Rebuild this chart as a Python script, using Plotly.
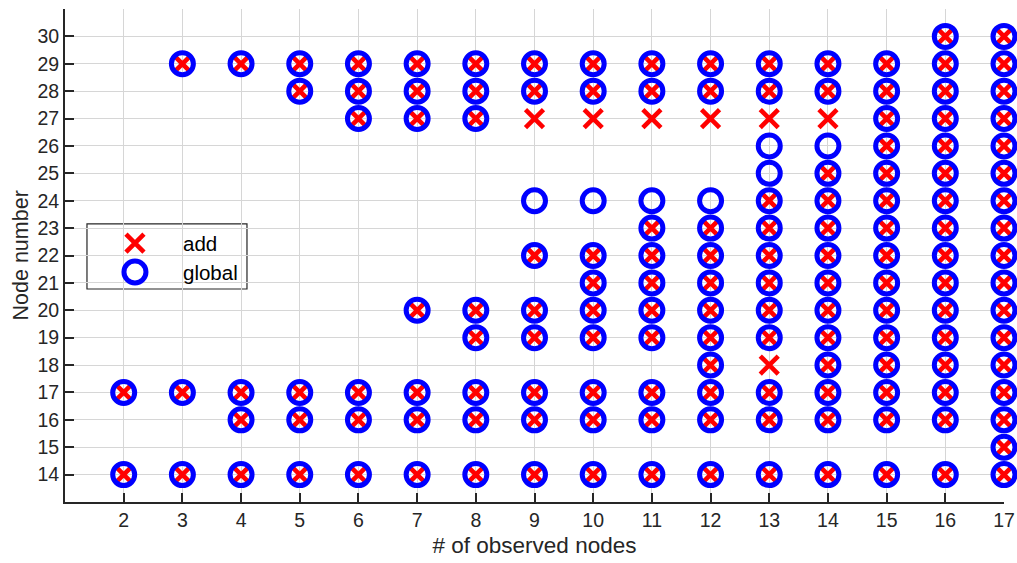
import plotly.graph_objects as go

# Number of observed nodes (x axis)
observed = [2, 3, 4, 5, 6, 7, 8, 9, 10, 11, 12, 13, 14, 15, 16, 17]

# Node numbers selected by the "add" strategy, one list per observed count
add_nodes = [
    [14, 17],
    [14, 17, 29],
    [14, 16, 17, 29],
    [14, 16, 17, 28, 29],
    [14, 16, 17, 27, 28, 29],
    [14, 16, 17, 20, 27, 28, 29],
    [14, 16, 17, 19, 20, 27, 28, 29],
    [14, 16, 17, 19, 20, 22, 27, 28, 29],
    [14, 16, 17, 19, 20, 21, 22, 27, 28, 29],
    [14, 16, 17, 19, 20, 21, 22, 23, 27, 28, 29],
    [14, 16, 17, 18, 19, 20, 21, 22, 23, 27, 28, 29],
    [14, 16, 17, 18, 19, 20, 21, 22, 23, 24, 27, 28, 29],
    [14, 16, 17, 18, 19, 20, 21, 22, 23, 24, 25, 27, 28, 29],
    [14, 16, 17, 18, 19, 20, 21, 22, 23, 24, 25, 26, 27, 28, 29],
    [14, 16, 17, 18, 19, 20, 21, 22, 23, 24, 25, 26, 27, 28, 29, 30],
    [14, 15, 16, 17, 18, 19, 20, 21, 22, 23, 24, 25, 26, 27, 28, 29, 30],
]

# Node numbers selected by the "global" strategy, one list per observed count
global_nodes = [
    [14, 17],
    [14, 17, 29],
    [14, 16, 17, 29],
    [14, 16, 17, 28, 29],
    [14, 16, 17, 27, 28, 29],
    [14, 16, 17, 20, 27, 28, 29],
    [14, 16, 17, 19, 20, 27, 28, 29],
    [14, 16, 17, 19, 20, 22, 24, 28, 29],
    [14, 16, 17, 19, 20, 21, 22, 24, 28, 29],
    [14, 16, 17, 19, 20, 21, 22, 23, 24, 28, 29],
    [14, 16, 17, 18, 19, 20, 21, 22, 23, 24, 28, 29],
    [14, 16, 17, 19, 20, 21, 22, 23, 24, 25, 26, 28, 29],
    [14, 16, 17, 18, 19, 20, 21, 22, 23, 24, 25, 26, 28, 29],
    [14, 16, 17, 18, 19, 20, 21, 22, 23, 24, 25, 26, 27, 28, 29],
    [14, 16, 17, 18, 19, 20, 21, 22, 23, 24, 25, 26, 27, 28, 29, 30],
    [14, 15, 16, 17, 18, 19, 20, 21, 22, 23, 24, 25, 26, 27, 28, 29, 30],
]

x_ticks = observed
y_ticks = [14, 15, 16, 17, 18, 19, 20, 21, 22, 23, 24, 25, 26, 27, 28, 29, 30]
series_names = ["add", "global"]


def flatten(columns):
    xs, ys = [], []
    for n, nodes in zip(observed, columns):
        xs.extend([n] * len(nodes))
        ys.extend(nodes)
    return xs, ys


FONT = "Liberation Sans, Arial, sans-serif"
TXT = "#262626"
RED = "#ff0000"
BLUE = "#0000ff"

add_style = dict(symbol="x-thin-open", size=18, color=RED, line=dict(color=RED, width=4.6))
glob_style = dict(symbol="circle-open", size=22, color=BLUE, line=dict(color=BLUE, width=5))

fig = go.Figure()

ax, ay = flatten(add_nodes)
gx, gy = flatten(global_nodes)
fig.add_trace(go.Scatter(x=ax, y=ay, mode="markers", marker=add_style, cliponaxis=False,
                         name=series_names[0], showlegend=False, hoverinfo="x+y"))
fig.add_trace(go.Scatter(x=gx, y=gy, mode="markers", marker=glob_style, cliponaxis=False,
                         name=series_names[1], showlegend=False, hoverinfo="x+y"))

# Legend drawn on a unit overlay axis so the symbols keep their full size
leg_x0, leg_x1, leg_y0, leg_y1 = 0.0234, 0.1938, 0.432, 0.564
sym_x, txt_x = 0.0745, 0.1235
row_y = [0.525, 0.4665]
fig.add_trace(go.Scatter(x=[sym_x], y=[row_y[0]], mode="markers", marker=add_style,
                         xaxis="x2", yaxis="y2", showlegend=False, hoverinfo="skip"))
fig.add_trace(go.Scatter(x=[sym_x], y=[row_y[1]], mode="markers", marker=glob_style,
                         xaxis="x2", yaxis="y2", showlegend=False, hoverinfo="skip"))
fig.add_shape(type="rect", xref="paper", yref="paper", x0=leg_x0, x1=leg_x1,
              y0=leg_y0, y1=leg_y1, fillcolor="white",
              line=dict(color=TXT, width=1.2), layer="between")
for name, yy in zip(series_names, row_y):
    fig.add_annotation(x=txt_x, y=yy, xref="paper", yref="paper", text=name,
                       showarrow=False, xanchor="left", yanchor="middle",
                       font=dict(family=FONT, size=20.5, color="black"))

# y-axis title
fig.add_annotation(x=-0.0469, y=0.5, xref="paper", yref="paper", text="Node number",
                   showarrow=False, textangle=-90, xanchor="center", yanchor="middle",
                   font=dict(family=FONT, size=21.5, color=TXT))

axis_common = dict(
    showgrid=True, gridcolor="#d6d6d6", gridwidth=1.4,
    showline=True, linecolor=TXT, linewidth=2,
    ticks="inside", ticklen=9, tickwidth=2, tickcolor=TXT,
    tickfont=dict(family=FONT, size=19.5, color=TXT),
    zeroline=False, mirror=False, automargin=False,
)

fig.update_layout(
    width=1017, height=563,
    margin=dict(l=65, r=13, t=9, b=61, autoexpand=False),
    paper_bgcolor="white", plot_bgcolor="white",
    showlegend=False,
    xaxis=dict(range=[1, 17], tickvals=x_ticks,
               title=dict(text="# of observed nodes", standoff=7,
                          font=dict(family=FONT, size=22.5, color=TXT)),
               **axis_common),
    yaxis=dict(range=[13, 31], tickvals=y_ticks, **axis_common),
    xaxis2=dict(overlaying="x", range=[0, 1], visible=False, fixedrange=True),
    yaxis2=dict(overlaying="y", range=[0, 1], visible=False, fixedrange=True),
)

fig.write_html("out.html")
